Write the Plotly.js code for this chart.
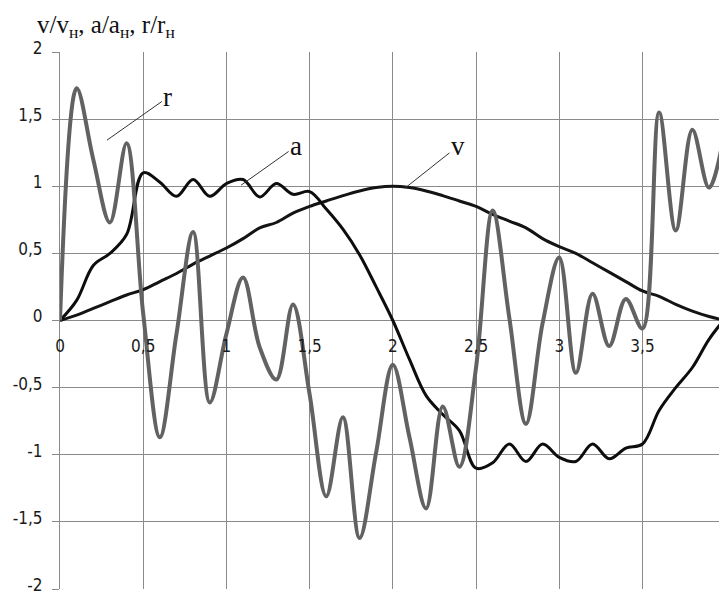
<!DOCTYPE html>
<html>
<head>
<meta charset="utf-8">
<script src="https://cdn.plot.ly/plotly-3.0.1.min.js"></script>
<style>
  html, body { margin: 0; padding: 0; background: #fff; }
  #chart { width: 719px; height: 597px; }
</style>
</head>
<body>
<div id="chart"></div>
<script>
// ---- data ----
const tValues = [0,0.1,0.2,0.3,0.4,0.5,0.6,0.7,0.8,0.9,1.0,1.1,1.2,1.3,1.4,1.5,1.6,1.7,1.8,1.9,2.0,
                 2.1,2.2,2.3,2.4,2.5,2.6,2.7,2.8,2.9,3.0,3.1,3.2,3.3,3.4,3.5,3.6,3.7,3.8,3.9,4.0];

const vValues = [0,0.04,0.09,0.14,0.19,0.23,0.29,0.35,0.42,0.48,0.54,0.61,0.69,0.73,0.80,0.85,0.89,0.93,0.965,0.99,1.0,
                 0.99,0.965,0.93,0.89,0.85,0.79,0.74,0.69,0.61,0.55,0.50,0.43,0.36,0.29,0.22,0.18,0.12,0.07,0.03,0];

const aValues = [0,0.15,0.41,0.50,0.64,1.10,1.03,0.925,1.05,0.925,1.02,1.05,0.92,1.02,0.94,0.96,0.83,0.68,0.49,0.25,0.0,
                 -0.29,-0.56,-0.70,-0.82,-1.10,-1.06,-0.92,-1.05,-0.92,-1.02,-1.05,-0.92,-1.03,-0.95,-0.92,-0.67,-0.50,-0.35,-0.14,0.02];

const rValues = [0,1.73,1.20,0.73,1.32,0.05,-0.87,-0.10,0.66,-0.61,-0.10,0.32,-0.20,-0.44,0.12,-0.55,-1.31,-0.72,-1.62,-0.98,-0.33,
                 -0.87,-1.40,-0.64,-1.09,-0.35,0.82,0.02,-0.77,-0.02,0.47,-0.39,0.20,-0.19,0.16,-0.06,1.55,0.67,1.42,0.99,1.45];

const xTickVals = [0,0.5,1,1.5,2,2.5,3,3.5];
const xTickText = ["0","0,5","1","1,5","2","2,5","3","3,5"];
const yTickVals = [-2,-1.5,-1,-0.5,0,0.5,1,1.5,2];
const yTickText = ["-2","-1,5","-1","-0,5","0","0,5","1","1,5","2"];

const titleText = "v/v<sub>н</sub>, a/a<sub>н</sub>, r/r<sub>н</sub>";
const seriesLabels = ["r", "a", "v"];

// ---- chart ----
const gridColor = "#8a8a8a";
const tickFont = { family: "Liberation Sans Narrow, DejaVu Sans Condensed, Liberation Sans, sans-serif", size: 17, color: "#1a1a1a" };
const serifFont = { family: "Liberation Serif, DejaVu Serif, serif", size: 25, color: "#111" };
const labelFont = { family: "Liberation Serif, DejaVu Serif, serif", size: 27, color: "#111" };

const traces = [
  { x: tValues, y: vValues, mode: "lines", name: "v",
    line: { color: "#141414", width: 3, shape: "spline", smoothing: 1 }, hoverinfo: "skip" },
  { x: tValues, y: aValues, mode: "lines", name: "a",
    line: { color: "#0d0d0d", width: 3, shape: "spline", smoothing: 1 }, hoverinfo: "skip" },
  { x: tValues, y: rValues, mode: "lines", name: "r",
    line: { color: "#626262", width: 4, shape: "spline", smoothing: 1 }, hoverinfo: "skip" }
];

const layout = {
  width: 719, height: 597,
  margin: { l: 60, r: 0, t: 52, b: 8, pad: 0 },
  paper_bgcolor: "#ffffff",
  plot_bgcolor: "#ffffff",
  showlegend: false,
  title: {
    text: titleText,
    font: serifFont,
    xref: "container", yref: "container",
    x: 37 / 719, xanchor: "left",
    y: 1 - 24 / 597, yanchor: "middle"
  },
  xaxis: {
    range: [0, 3.96],
    tickvals: xTickVals, ticktext: xTickText,
    showgrid: true, gridcolor: gridColor, gridwidth: 1,
    zeroline: false, showline: false,
    anchor: "free", position: 0.5,
    ticks: "outside", ticklen: 10, tickcolor: "rgba(0,0,0,0)",
    tickfont: tickFont,
    fixedrange: true
  },
  yaxis: {
    range: [-2, 2],
    tickvals: yTickVals, ticktext: yTickText,
    showgrid: true, gridcolor: gridColor, gridwidth: 1,
    zeroline: false,
    showline: true, linecolor: gridColor, linewidth: 1,
    ticks: "outside", ticklen: 7, tickcolor: gridColor, tickwidth: 1,
    ticklabelstandoff: 6,
    ticklabelshift: -4,
    ticklabeloverflow: "allow",
    tickfont: tickFont,
    fixedrange: true
  },
  annotations: [
    { x: 0.282, y: 1.343, xref: "x", yref: "y", text: seriesLabels[0], font: labelFont,
      showarrow: true, arrowhead: 0, arrowwidth: 1, arrowcolor: "#333", ax: 61, ay: -43, standoff: 0 },
    { x: 1.088, y: 1.008, xref: "x", yref: "y", text: seriesLabels[1], font: labelFont,
      showarrow: true, arrowhead: 0, arrowwidth: 1, arrowcolor: "#333", ax: 55, ay: -39, standoff: 0 },
    { x: 2.073, y: 0.986, xref: "x", yref: "y", text: seriesLabels[2], font: labelFont,
      showarrow: true, arrowhead: 0, arrowwidth: 1, arrowcolor: "#333", ax: 53, ay: -42, standoff: 0 }
  ]
};

Plotly.newPlot("chart", traces, layout, { staticPlot: true, displayModeBar: false });
</script>
</body>
</html>
